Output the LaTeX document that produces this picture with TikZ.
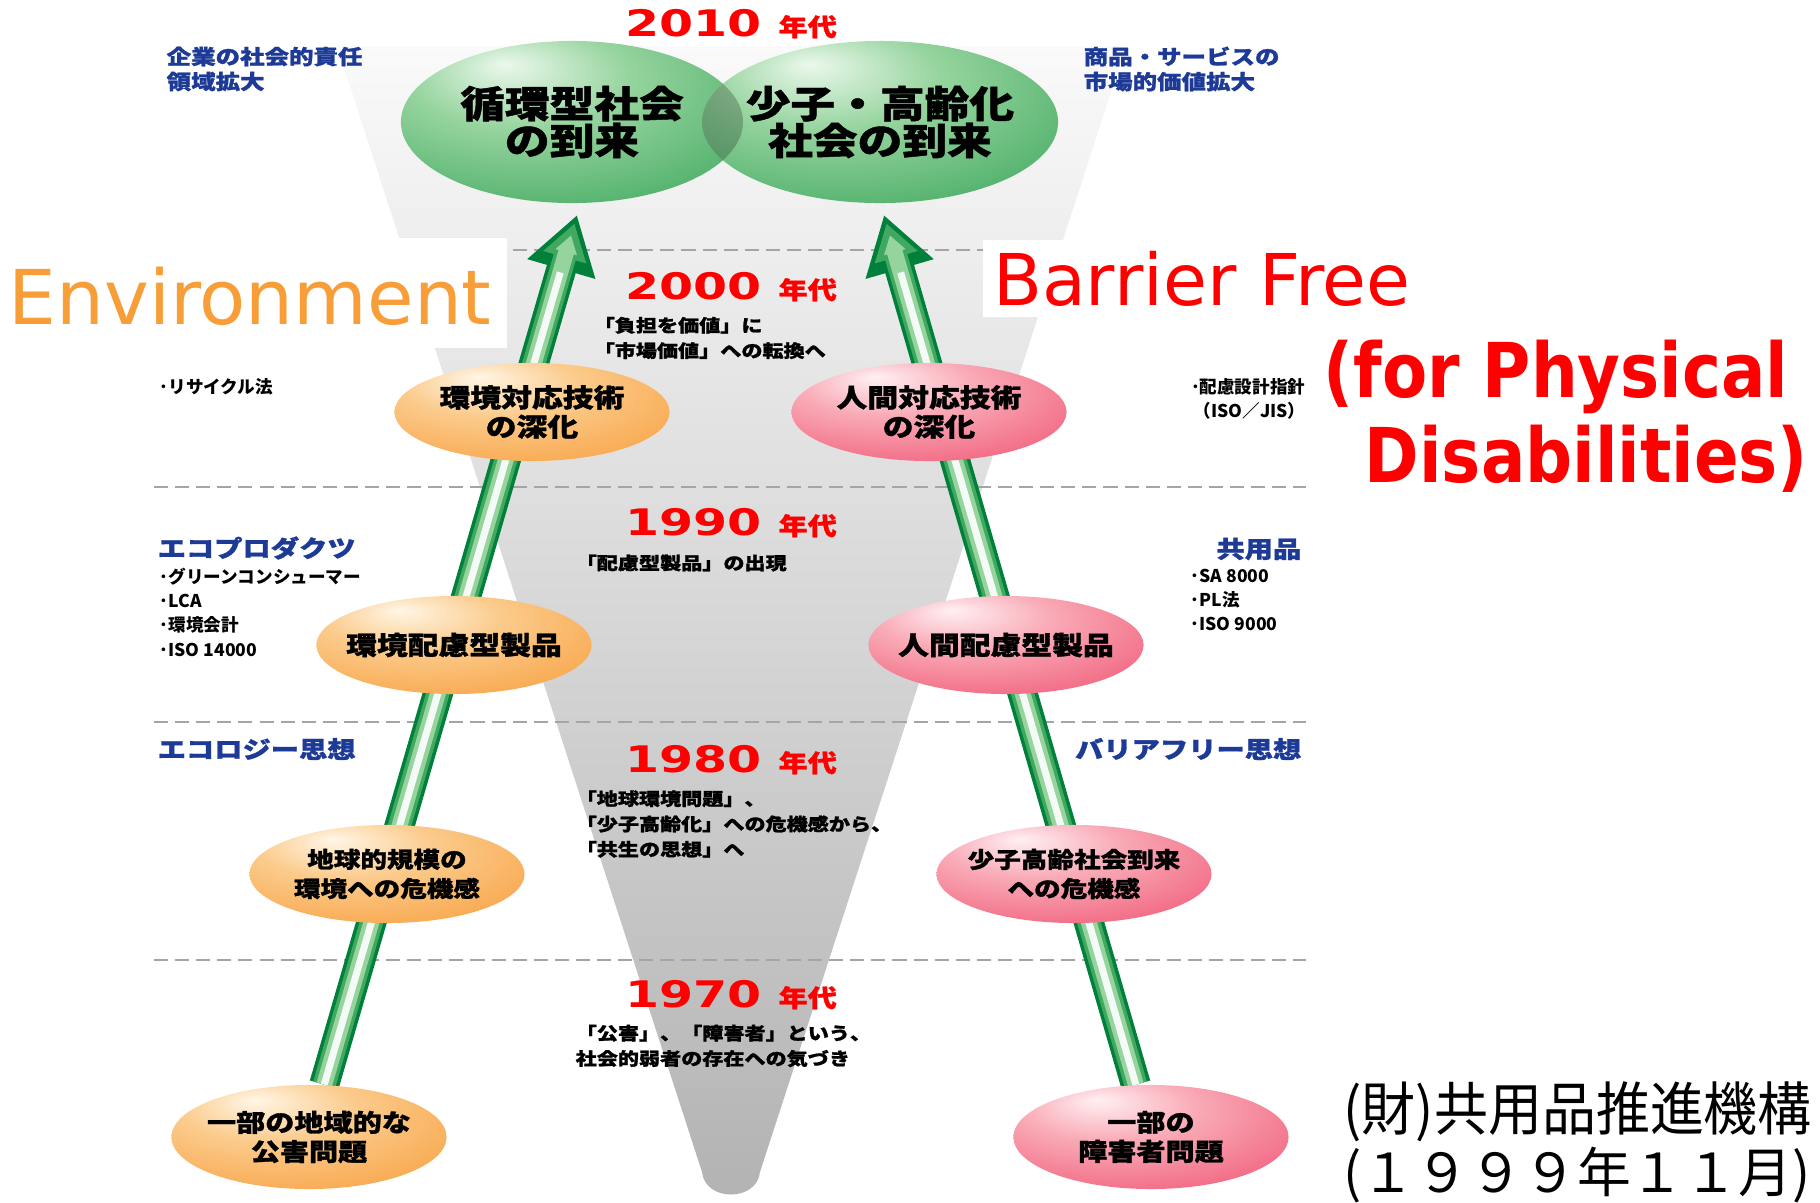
\documentclass[tikz,border=0pt]{standalone}
\usepackage{fontspec}
\usetikzlibrary{shapes.geometric,arrows.meta}
\newfontfamily\jp{Noto Sans CJK JP}[FakeStretch=1.2,BoldFeatures={FakeBold=1.2}]
\newfontfamily\jpreg{Noto Sans CJK JP}
\newfontfamily\jpnar{Noto Sans CJK JP}[FakeStretch=0.93]
\newfontfamily\latn{DejaVu Sans}
\newfontfamily\latnb{DejaVu Sans}[FakeStretch=0.87]
\newfontfamily\yrs{DejaVu Sans}[FakeStretch=1.34]
\definecolor{gA}{RGB}{235,248,236}
\definecolor{gB}{RGB}{150,212,158}
\definecolor{gC}{RGB}{64,168,96}
\definecolor{gD}{RGB}{0,128,58}
\definecolor{oA}{RGB}{255,246,230}
\definecolor{oB}{RGB}{251,203,140}
\definecolor{oC}{RGB}{248,160,64}
\definecolor{oD}{RGB}{245,124,0}
\definecolor{pA}{RGB}{255,240,243}
\definecolor{pB}{RGB}{249,170,182}
\definecolor{pC}{RGB}{240,88,118}
\definecolor{pD}{RGB}{232,0,58}
\definecolor{blu}{RGB}{28,58,150}
\definecolor{envorange}{RGB}{247,158,56}
\definecolor{dashgray}{RGB}{165,165,165}
\pgfdeclareradialshading{greenball}{\pgfpoint{-10bp}{18bp}}{color(0bp)=(gA);color(16bp)=(gB);color(42bp)=(gC);color(68bp)=(gD)}
\pgfdeclareradialshading{orangeball}{\pgfpoint{-10bp}{18bp}}{color(0bp)=(oA);color(16bp)=(oB);color(42bp)=(oC);color(68bp)=(oD)}
\pgfdeclareradialshading{pinkball}{\pgfpoint{-10bp}{18bp}}{color(0bp)=(pA);color(16bp)=(pB);color(42bp)=(pC);color(68bp)=(pD)}
\pgfdeclarelayer{bg}
\pgfsetlayers{bg,main}
\newcommand\nendai{{\jp\bfseries\fontsize{6.9pt}{7pt}\selectfont 年代}}
\begin{document}
\begin{tikzpicture}[x=0.01cm,y=-0.01cm]
\useasboundingbox (0,0) rectangle (1820,1202);
\tikzset{shaftA/.style={line width=8.5pt,draw=gD,-{Triangle[width=19pt,length=16pt]}}}
\tikzset{shaftB/.style={line width=6.5pt,draw=gC,shorten >=2.5pt,-{Triangle[width=12pt,length=10pt]}}}
\tikzset{shaftC/.style={line width=4.5pt,draw=gB,shorten >=6pt,-{Triangle[width=6pt,length=5pt]}}}
\tikzset{shaftD/.style={line width=2pt,draw=white,opacity=0.9,shorten >=17pt}}
\tikzstyle{sep}=[dashgray,line width=0.6pt,dash pattern=on 4pt off 2pt]
\tikzstyle{oval}=[ellipse,shade,inner xsep=-4mm,inner ysep=-1.5mm,minimum width=2.75cm,minimum height=0.98cm,align=center,font=\jp\bfseries\fontsize{7.3pt}{8.3pt}\selectfont]
\tikzstyle{envoval}=[oval,shading=orangeball]
\tikzstyle{humoval}=[oval,shading=pinkball]
\tikzstyle{big}=[ellipse,shade,shading=greenball,inner xsep=-6mm,inner ysep=-2mm,minimum height=1.62cm,align=center,font=\jp\bfseries\fontsize{10.6pt}{10.5pt}\selectfont]
\tikzstyle{era}=[red,anchor=base,inner sep=0pt,font=\yrs\bfseries\fontsize{10.4pt}{10.4pt}\selectfont]
\tikzstyle{note}=[anchor=west,align=left,inner sep=0pt,font=\jp\bfseries\fontsize{5pt}{7.2pt}\selectfont]
\tikzstyle{small}=[anchor=west,align=left,inner sep=0pt,font=\jpreg\bfseries\fontsize{5pt}{6.9pt}\selectfont]
\tikzstyle{head}=[blu,inner sep=0pt,font=\jp\bfseries\fontsize{6.7pt}{7pt}\selectfont]
\node[big,minimum width=3.42cm] (junkan)at(572,122){循環型社会\\の到来};
\node[big,minimum width=3.56cm] (shoshi)at(880,122){少子・高齢化\\社会の到来};
\begin{scope}
\clip (572,122) ellipse [x radius=171,y radius=81];
\fill[black,opacity=0.22] (880,122) ellipse [x radius=178,y radius=81];
\end{scope}
\node[envoval] (l4)at(532,412){環境対応技術\\の深化};
\node[envoval] (l3)at(454,645){環境配慮型製品};
\node[envoval,font=\jp\bfseries\fontsize{6.3pt}{8.3pt}\selectfont] (l2)at(387,874){地球的規模の\\環境への危機感};
\node[envoval,minimum height=1.04cm,font=\jp\bfseries\fontsize{6.9pt}{8.3pt}\selectfont] (l1)at(309,1137){一部の地域的な\\公害問題};
\node[humoval] (r4)at(929,412){人間対応技術\\の深化};
\node[humoval] (r3)at(1006,645){人間配慮型製品};
\node[humoval,font=\jp\bfseries\fontsize{6.3pt}{8.3pt}\selectfont] (r2)at(1074,874){少子高齢社会到来\\への危機感};
\node[humoval,minimum height=1.04cm,font=\jp\bfseries\fontsize{6.9pt}{8.3pt}\selectfont] (r1)at(1151,1137){一部の\\障害者問題};
\coordinate (ltip)at(577,215);
\coordinate (rtip)at(884,215);
\node[era] (y2010)at(731,36){2010 \nendai};
\node[era] (y2000)at(731,299){2000 \nendai};
\node[era] (y1990)at(731,535){1990 \nendai};
\node[era] (y1980)at(731,772){1980 \nendai};
\node[era] (y1970)at(731,1007){1970 \nendai};
\node[note] (n2000)at(593,338){「負担を価値」に\\「市場価値」への転換へ};
\node[note] (n1990)at(575,563){「配慮型製品」の出現};
\node[note] (n1980)at(575,824){「地球環境問題」、\\「少子高齢化」への危機感から、\\「共生の思想」へ};
\node[note] (n1970)at(575,1046){「公害」、「障害者」という、\\社会的弱者の存在への気づき};
\node[head,anchor=west,align=left,font=\jp\bfseries\fontsize{5.8pt}{7.1pt}\selectfont] (csr)at(166,69){企業の社会的責任\\領域拡大};
\node[head,anchor=west,align=left,font=\jp\bfseries\fontsize{5.8pt}{7.1pt}\selectfont] (mkt)at(1083,69){商品・サービスの\\市場的価値拡大};
\node[head,anchor=west] (eco)at(157,548){エコプロダクツ};
\node[head,anchor=east] (kyo)at(1302,549){共用品};
\node[head,anchor=west] (ecot)at(157,749){エコロジー思想};
\node[head,anchor=east] (bft)at(1302,749){バリアフリー思想};
\node[small] (recy)at(159,387){･リサイクル法};
\node[small,anchor=east,align=right] (guide)at(1306,399){･配慮設計指針\\（ISO／JIS）};
\node[small] (ecol)at(159,612){･グリーンコンシューマー\\･LCA\\･環境会計\\･ISO 14000};
\node[small] (kyol)at(1190,600){･SA 8000\\･PL法\\･ISO 9000};
\fill[white] (0,238) rectangle (507,348);
\node[anchor=base west,inner sep=0pt,text=envorange,font=\latn\fontsize{21.5pt}{22pt}\selectfont] (envl)at(8,324){Environment};
\node[anchor=base west,fill=white,inner sep=3pt,text=red,font=\latn\fontsize{20.3pt}{21pt}\selectfont] (bfl)at(982,305){Barrier Free};
\node[anchor=base west,inner sep=0pt,text=red,font=\latnb\bfseries\fontsize{21.5pt}{22pt}\selectfont] (fpl)at(1323,397){(for Physical};
\node[anchor=base west,inner sep=0pt,text=red,font=\latnb\bfseries\fontsize{21.5pt}{22pt}\selectfont] (dsl)at(1364,482){Disabilities)};
\node[anchor=west,inner sep=0pt,font=\jpnar\fontsize{16.5pt}{17pt}\selectfont] (org)at(1343,1112){(財)共用品推進機構};
\node[anchor=west,inner sep=0pt,font=\jpreg\fontsize{15.3pt}{16pt}\selectfont] (date)at(1343,1175){(１９９９年１１月)};
\begin{pgfonlayer}{bg}
\shade[top color=black!2,bottom color=black!30] (337,46)--(1126,46)--(760,1172) .. controls (757,1202) and (705,1202) .. (702,1172)--cycle;
\draw[sep] (154,250)--(1306,250);
\draw[sep] (154,487)--(1306,487);
\draw[sep] (154,722)--(1306,722);
\draw[sep] (154,960)--(1306,960);
\draw[shaftA] (l1)--(ltip);
\draw[shaftB] (l1)--(ltip);
\draw[shaftC] (l1)--(ltip);
\draw[shaftD] (l1)--(ltip);
\draw[shaftA] (r1)--(rtip);
\draw[shaftB] (r1)--(rtip);
\draw[shaftC] (r1)--(rtip);
\draw[shaftD] (r1)--(rtip);
\end{pgfonlayer}
\end{tikzpicture}
\end{document}
